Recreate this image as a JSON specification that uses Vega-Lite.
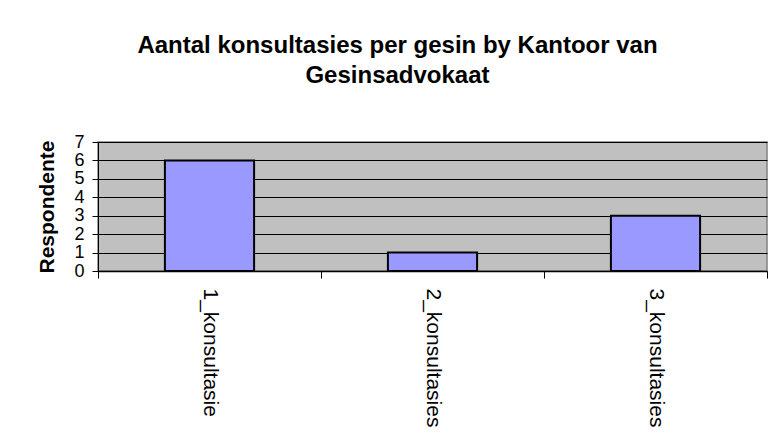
{
  "$schema": "https://vega.github.io/schema/vega-lite/v6.json",
  "autosize": "none",
  "width": 669,
  "height": 129,
  "padding": {"left": 98, "top": 142, "right": 9, "bottom": 173},
  "background": "white",
  "title": {
    "text": ["Aantal konsultasies per gesin by Kantoor van", "Gesinsadvokaat"],
    "font": "Liberation Sans",
    "fontSize": 24,
    "fontWeight": "bold",
    "color": "black",
    "anchor": "middle",
    "frame": "group",
    "dx": -35,
    "offset": 45,
    "lineHeight": 30
  },
  "data": {
    "values": [
      {"kategorie": "1_konsultasie", "respondente": 6},
      {"kategorie": "2_konsultasies", "respondente": 1},
      {"kategorie": "3_konsultasies", "respondente": 3}
    ]
  },
  "mark": {"type": "bar", "fill": "#9999FF", "stroke": "black", "strokeWidth": 2, "width": {"band": 0.4}},
  "encoding": {
    "x": {
      "field": "kategorie",
      "type": "nominal",
      "sort": null,
      "scale": {"paddingInner": 0, "paddingOuter": 0},
      "axis": {
        "title": null,
        "labelAngle": 90,
        "labelAlign": "left",
        "labelBaseline": "middle",
        "labelFont": "Liberation Sans",
        "labelFontSize": 21,
        "labelColor": "black",
        "labelPadding": 10,
        "tickBand": "extent",
        "ticks": true,
        "tickColor": "black",
        "tickSize": 7,
        "tickWidth": 1,
        "domainColor": "black",
        "domainWidth": 1.5,
        "grid": false
      }
    },
    "y": {
      "field": "respondente",
      "type": "quantitative",
      "scale": {"domain": [0, 7], "nice": false},
      "axis": {
        "title": "Respondente",
        "titleFont": "Liberation Sans",
        "titleFontSize": 21,
        "titleFontWeight": "bold",
        "titleColor": "black",
        "titlePadding": 16,
        "values": [0, 1, 2, 3, 4, 5, 6, 7],
        "labelOverlap": false,
        "labelFont": "Liberation Sans",
        "labelFontSize": 18,
        "labelColor": "black",
        "labelPadding": 8,
        "tickColor": "black",
        "tickSize": 6,
        "domainColor": "black",
        "grid": true,
        "gridColor": "black",
        "gridWidth": 1,
        "gridOpacity": 1
      }
    }
  },
  "config": {
    "view": {"fill": "#C0C0C0", "stroke": "#808080", "strokeWidth": 1.5}
  }
}
